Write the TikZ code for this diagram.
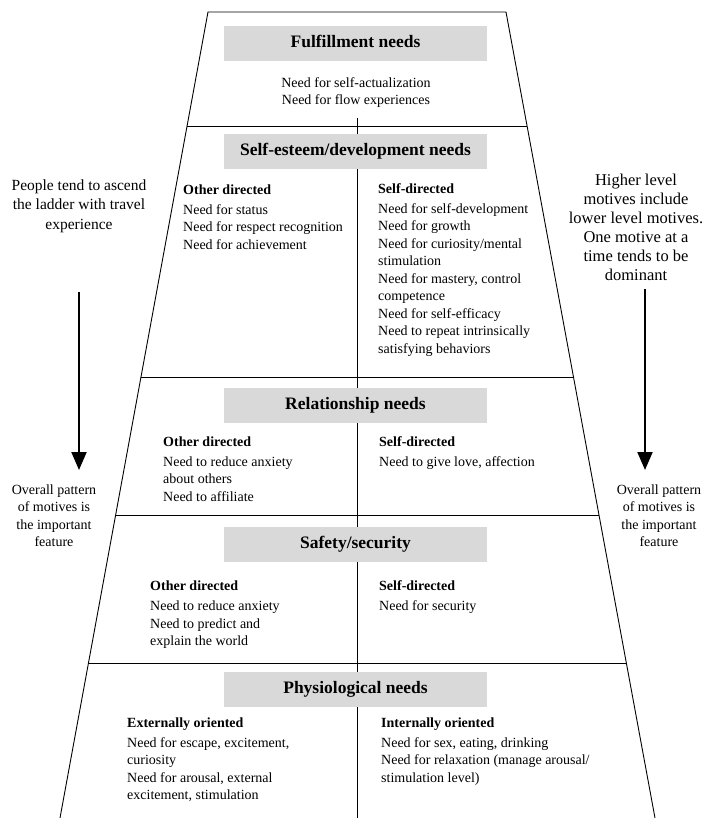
\documentclass[tikz,border=0pt]{standalone}
\usepackage{fontspec}
\setmainfont{Liberation Serif}
\usetikzlibrary{arrows.meta,calc}
\definecolor{boxgray}{RGB}{217,217,217}
\newcommand{\leftlines}[1]{\begin{tabular}[t]{@{}l@{}}#1\end{tabular}}
\newcommand{\centerlines}[1]{\begin{tabular}[t]{@{}c@{}}#1\end{tabular}}
\begin{document}
\begin{tikzpicture}[x=1bp,y=-1bp,
  frame/.style={line width=0.9bp},
  titlebox/.style={fill=boxgray, minimum width=263bp, minimum height=35bp, inner sep=0pt,
    text height=12bp, text depth=3.5bp, font=\fontsize{17.5bp}{20bp}\selectfont\bfseries},
  body/.style={inner sep=0pt, anchor=base west, font=\fontsize{14bp}{17.5bp}\selectfont},
  bodyc/.style={inner sep=0pt, anchor=base, font=\fontsize{14bp}{17.5bp}\selectfont},
  side/.style={inner sep=0pt, anchor=base, font=\fontsize{15.5bp}{19.5bp}\selectfont},
  sideright/.style={inner sep=0pt, anchor=base, font=\fontsize{16.5bp}{19bp}\selectfont},
  sidelow/.style={inner sep=0pt, anchor=base, font=\fontsize{14bp}{17.5bp}\selectfont},
  bigarrow/.style={line width=2bp, -{Triangle[width=15bp,length=18bp]}}
]
\useasboundingbox (0,0) rectangle (709,818);
% ladder frame
\coordinate (TL) at (208,12);
\coordinate (TR) at (506,12);
\coordinate (BL) at (60,818);
\coordinate (BR) at (655,818);
\draw[frame] (BL) -- (TL) -- (TR) -- (BR);
\foreach \yy/\nn in {126/a,377/b,515/c,663/d}{
  \pgfmathsetmacro\tt{(\yy-12)/806}
  \coordinate (L\nn) at ($(TL)!\tt!(BL)$);
  \coordinate (R\nn) at ($(TR)!\tt!(BR)$);
  \draw[frame] (L\nn) -- (R\nn);
}
\coordinate (Ctop) at (357,118);
\coordinate (Cbot) at (357,818);
\draw[frame] (Ctop) -- (Cbot);

% titles
\node[titlebox] (t1) at (355.5,43.5) {Fulfillment needs};
\node[titlebox] (t2) at (355.5,151) {Self-esteem/development needs};
\node[titlebox] (t3) at (355.5,405.5) {Relationship needs};
\node[titlebox] (t4) at (355.5,544.5) {Safety/security};
\node[titlebox] (t5) at (355.5,689.5) {Physiological needs};

% fulfillment
\node[bodyc] (f1) at (356,87) {\centerlines{Need for self-actualization\\Need for flow experiences}};

% self-esteem
\node[body] (s1) at (183,194) {\leftlines{\textbf{Other directed}\\[2.5bp]Need for status\\Need for respect recognition\\Need for achievement}};
\node[body] (s2) at (378,193) {\leftlines{\textbf{Self-directed}\\[2.5bp]Need for self-development\\Need for growth\\Need for curiosity/mental\\stimulation\\Need for mastery, control\\competence\\Need for self-efficacy\\Need to repeat intrinsically\\satisfying behaviors}};

% relationship
\node[body] (r1) at (163,446) {\leftlines{\textbf{Other directed}\\[2.5bp]Need to reduce anxiety\\about others\\Need to affiliate}};
\node[body] (r2) at (379,446) {\leftlines{\textbf{Self-directed}\\[2.5bp]Need to give love, affection}};

% safety
\node[body] (y1) at (150,590) {\leftlines{\textbf{Other directed}\\[3bp]Need to reduce anxiety\\Need to predict and\\explain the world}};
\node[body] (y2) at (379,590) {\leftlines{\textbf{Self-directed}\\[3bp]Need for security}};

% physiological
\node[body] (p1) at (127,727) {\leftlines{\textbf{Externally oriented}\\[2.5bp]Need for escape, excitement,\\curiosity\\Need for arousal, external\\excitement, stimulation}};
\node[body] (p2) at (381,727) {\leftlines{\textbf{Internally oriented}\\[2.5bp]Need for sex, eating, drinking\\Need for relaxation (manage arousal/\\stimulation level)}};

% side notes
\node[side] (lt) at (79,190) {\centerlines{People tend to ascend\\the ladder with travel\\experience}};
\node[sideright] (rt) at (636,185) {\centerlines{Higher level\\motives include\\lower level motives.\\One motive at a\\time tends to be\\dominant}};
\node[sidelow] (lb) at (54,494) {\centerlines{Overall pattern\\of motives is\\the important\\feature}};
\node[sidelow] (rb) at (659,494) {\centerlines{Overall pattern\\of motives is\\the important\\feature}};

\coordinate (la1) at (79,292);
\coordinate (la2) at (79,470);
\coordinate (ra1) at (645,289);
\coordinate (ra2) at (645,470);
\draw[bigarrow] (la1) -- (la2);
\draw[bigarrow] (ra1) -- (ra2);
\end{tikzpicture}
\end{document}
